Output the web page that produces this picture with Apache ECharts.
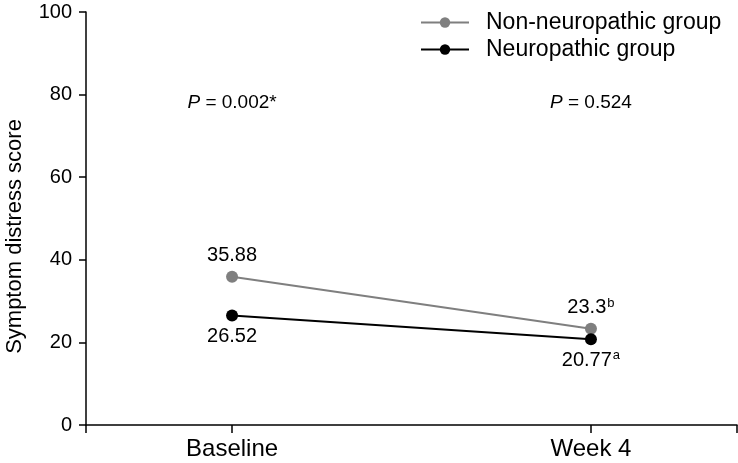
<!DOCTYPE html>
<html>
<head>
<meta charset="utf-8">
<script src="https://cdn.jsdelivr.net/npm/echarts@6/dist/echarts.min.js"></script>
<style>html,body{margin:0;padding:0;background:#fff;}#c{width:738px;height:463px;}</style>
</head>
<body>
<div id="c"></div>
<script>
var categories = ['Baseline', 'Week 4'];
var seriesNames = ['Non-neuropathic group', 'Neuropathic group'];
var nonNeuro = [35.88, 23.3];
var neuro = [26.52, 20.77];
var nonNeuroSup = ['', 'b'];
var neuroSup = ['', 'a'];
var pValues = ['0.002*', '0.524'];

var FONT = 'Liberation Sans, Arial, sans-serif';
var chart = echarts.init(document.getElementById('c'));

function pts(vals, sups, pos) {
  return vals.map(function (v, i) {
    return {
      value: [i, v],
      label: {
        show: true,
        position: pos,
        distance: 5,
        formatter: sups[i] ? '{v|' + v + '}{s|' + sups[i] + '}' : '{v|' + v + '}',
        rich: {
          v: { fontSize: 20, lineHeight: 20, fontFamily: FONT, color: '#000' },
          s: { fontSize: 13, lineHeight: 13, fontFamily: FONT, color: '#000', padding: [0, 0, 9, 1] }
        }
      }
    };
  });
}

var option = {
  animation: false,
  backgroundColor: '#fff',
  grid: { left: 86, right: 1, top: 12, bottom: 38, outerBoundsMode: 'none', containLabel: false },
  legend: {
    orient: 'vertical',
    left: 420,
    top: 11,
    padding: 0,
    itemWidth: 48,
    itemHeight: 13,
    itemGap: 4,
    textStyle: { fontSize: 23, fontFamily: FONT, color: '#000', padding: [0, 0, 0, 12] },
    data: seriesNames
  },
  xAxis: {
    type: 'value',
    min: -0.407,
    max: 1.407,
    splitLine: { show: false },
    axisLine: { show: true, onZero: false, lineStyle: { color: '#000', width: 1.5 } },
    axisTick: { show: true, length: 8, lineStyle: { color: '#000', width: 1.5 }, customValues: [-0.407, 0, 1, 1.407] },
    axisLabel: {
      customValues: [0, 1],
      margin: 12,
      fontSize: 24, fontFamily: FONT, color: '#000',
      formatter: function (v) { return categories[Math.round(v)] || ''; }
    }
  },
  yAxis: {
    type: 'value',
    min: 0,
    max: 100,
    interval: 20,
    name: 'Symptom distress score',
    nameLocation: 'middle',
    nameGap: 60,
    nameTextStyle: { fontSize: 22, fontFamily: FONT, color: '#000', padding: [0, 36, 0, 0] },
    splitLine: { show: false },
    axisLine: { show: true, onZero: false, lineStyle: { color: '#000', width: 1.5 } },
    axisTick: { show: true, length: 7, lineStyle: { color: '#000', width: 1.5 } },
    axisLabel: { margin: 14, fontSize: 20, fontFamily: FONT, color: '#000' }
  },
  series: [
    {
      name: seriesNames[0],
      type: 'line',
      symbol: 'circle',
      symbolSize: 12,
      itemStyle: { color: '#7f7f7f' },
      lineStyle: { color: '#7f7f7f', width: 2 },
      data: pts(nonNeuro, nonNeuroSup, 'top'),
      z: 3
    },
    {
      name: seriesNames[1],
      type: 'line',
      symbol: 'circle',
      symbolSize: 12,
      itemStyle: { color: '#000' },
      lineStyle: { color: '#000', width: 2 },
      data: pts(neuro, neuroSup, 'bottom'),
      z: 4
    },
    {
      type: 'scatter',
      symbolSize: 0,
      silent: true,
      itemStyle: { opacity: 1, color: '#000' },
      data: pValues.map(function (p, i) { return [i, 78]; }),
      label: {
        show: true,
        position: 'inside',
        opacity: 1,
        formatter: function (params) { return '{i|P}{t| = ' + pValues[params.dataIndex] + '}'; },
        rich: {
          i: { fontSize: 19, fontFamily: FONT, fontStyle: 'italic', color: '#000' },
          t: { fontSize: 19, fontFamily: FONT, color: '#000' }
        }
      }
    }
  ]
};
chart.setOption(option);
</script>
</body>
</html>
